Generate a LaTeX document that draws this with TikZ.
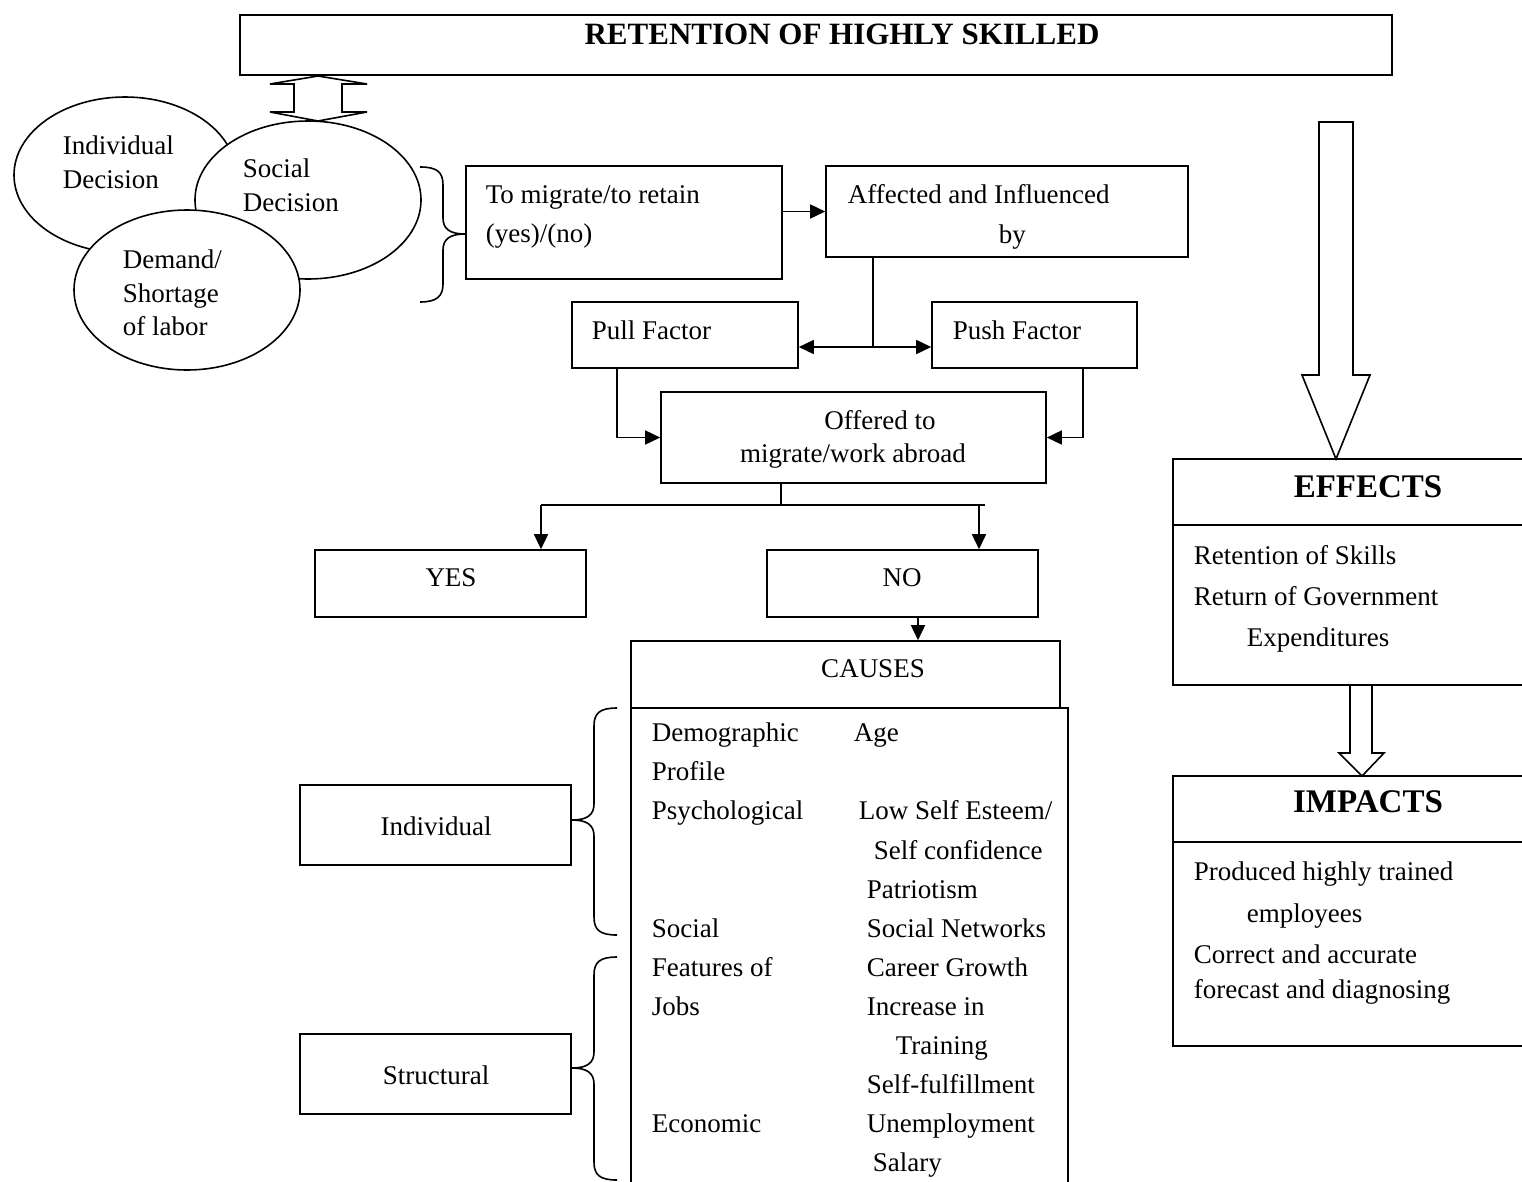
\documentclass[tikz,border=0pt]{standalone}
\usepackage{fontspec}
\setmainfont{Liberation Serif}
\usetikzlibrary{arrows.meta,shapes.geometric}
\begin{document}
\begin{tikzpicture}[x=1pt,y=-1pt,line width=1.6pt,
  box/.style={draw,rectangle,inner sep=0pt,line width=1.6pt},
  ell/.style={draw,ellipse,fill=white,inner sep=0pt,line width=1.6pt},
  txt/.style={inner sep=0pt,anchor=base west,font=\fontsize{27}{34}\selectfont},
  txtc/.style={inner sep=0pt,anchor=base,font=\fontsize{27}{34}\selectfont},
  ttl/.style={inner sep=0pt,anchor=base,font=\fontsize{31}{36}\selectfont\bfseries},
  ttlb/.style={inner sep=0pt,anchor=base,font=\fontsize{33}{36}\selectfont\bfseries},
  arr/.style={-{Triangle[length=15pt,width=14pt]}},
  blk/.style={draw,line width=1.6pt,line join=miter}]
\path[use as bounding box] (0,0) rectangle (1522,1181);
\begin{scope}
\clip (0,0) rectangle (1522,1181);

% ---------- top box ----------
\node[box,minimum width=1152pt,minimum height=60pt] (top) at (816,45) {};
\node[ttl] (ttop) at (842,44) {RETENTION OF HIGHLY SKILLED};

% double headed block arrow
\draw[blk] (318,76) -- (367,84) -- (342,84) -- (342,112) -- (367,112) -- (318,121)
  -- (270,112) -- (294,112) -- (294,84) -- (270,84) -- cycle;

% ---------- ellipses ----------
\node[ell,minimum width=222pt,minimum height=156pt] (eind) at (125,175) {};
\node[ell,minimum width=226pt,minimum height=158pt] (esoc) at (308,200) {};
\node[ell,minimum width=226pt,minimum height=160pt] (edem) at (187,290) {};
\node[txt] (ti1) at (62,154) {Individual};
\node[txt] (ti2) at (62,188) {Decision};
\node[txt] (ts1) at (242,177) {Social};
\node[txt] (ts2) at (242,211) {Decision};
\node[txt] (td1) at (122,268) {Demand/};
\node[txt] (td2) at (122,302) {Shortage};
\node[txt] (td3) at (122,335) {of labor};

% brace }
\draw (420,167) .. controls (437,167) and (443,172) .. (443,185) -- (443,218)
  .. controls (443,229) and (450,234) .. (465,234)
  .. controls (450,234) and (443,239) .. (443,250) -- (443,284)
  .. controls (443,296) and (437,302) .. (420,302);

% ---------- decision chain ----------
\node[box,minimum width=316pt,minimum height=113pt] (mig) at (624,222.5) {};
\node[txt] (tm1) at (485,203) {To migrate/to retain};
\node[txt] (tm2) at (485,242) {(yes)/(no)};

\node[box,minimum width=362pt,minimum height=91pt] (aff) at (1007,211.5) {};
\node[txt] (ta1) at (847,203) {Affected and Influenced};
\node[txt] (ta2) at (998,243) {by};

\draw[arr] (mig.east |- aff.west) -- (aff.west);

\node[box,minimum width=226pt,minimum height=66pt] (pull) at (685,335) {};
\node[txt] (tpl) at (591,339) {Pull Factor};
\node[box,minimum width=205pt,minimum height=66pt] (push) at (1034.5,335) {};
\node[txt] (tps) at (952,339) {Push Factor};

\coordinate (j1) at (873,347);
\draw (aff.south -| j1) -- (j1);
\draw[arr] (j1) -- (j1 -| pull.east);
\draw[arr] (j1) -- (j1 -| push.west);

\node[box,minimum width=385pt,minimum height=91pt] (off) at (853.5,437.5) {};
\node[txtc] (to1) at (880,429) {Offered to};
\node[txtc] (to2) at (853,462) {migrate/work abroad};

\coordinate (c1) at (617,436);
\coordinate (c2) at (1083,436);
\draw[arr] (pull.south -| c1) |- (off.west);
\draw[arr] (push.south -| c2) |- (off.east);

\node[box,minimum width=271pt,minimum height=67pt] (yes) at (450.5,583.5) {};
\node[txtc] (tyes) at (451,586) {YES};
\node[box,minimum width=271pt,minimum height=67pt] (no) at (902.5,583.5) {};
\node[txtc] (tno) at (902,586) {NO};

\coordinate (j2) at (781,505);
\coordinate (yl) at (541,505);
\coordinate (nl) at (979,505);
\coordinate (hr) at (985,505);
\draw (off.south -| j2) -- (j2);
\draw (yl) -- (hr);
\draw[arr] (yl) -- (yl |- yes.north);
\draw[arr] (nl) -- (nl |- no.north);

% ---------- causes ----------
\node[box,minimum width=429pt,minimum height=67pt] (causes) at (845.5,674.5) {};
\node[txtc] (tcs) at (873,677) {CAUSES};
\coordinate (c3) at (918,620);
\draw[arr] (no.south -| c3) -- (causes.north -| c3);

\node[box,minimum width=437pt,minimum height=492pt] (body) at (849.5,954) {};
\node[txt] (r0a) at (651,741.7) {Demographic};
\node[txt] (r0b) at (853,741.7) {Age};
\node[txt] (r1a) at (651,780.8) {Profile};
\node[txt] (r2a) at (651,819.9) {Psychological};
\node[txt] (r2b) at (858,819.9) {Low Self Esteem/};
\node[txt] (r3b) at (873,859.0) {Self confidence};
\node[txt] (r4b) at (866,898.1) {Patriotism};
\node[txt] (r5a) at (651,937.2) {Social};
\node[txt] (r5b) at (866,937.2) {Social Networks};
\node[txt] (r6a) at (651,976.3) {Features of};
\node[txt] (r6b) at (866,976.3) {Career Growth};
\node[txt] (r7a) at (651,1015.4) {Jobs};
\node[txt] (r7b) at (866,1015.4) {Increase in};
\node[txt] (r8b) at (895,1054.5) {Training};
\node[txt] (r9b) at (866,1093.6) {Self-fulfillment};
\node[txt] (r10a) at (651,1132.7) {Economic};
\node[txt] (r10b) at (866,1132.7) {Unemployment};
\node[txt] (r11b) at (872,1171.8) {Salary};

\node[box,minimum width=271pt,minimum height=80pt] (indiv) at (435.5,825) {};
\node[txtc] (tind) at (436,835) {Individual};
\node[box,minimum width=271pt,minimum height=80pt] (struct) at (435.5,1074) {};
\node[txtc] (tstr) at (436,1084) {Structural};

% braces {
\draw (617,708) .. controls (600,708) and (594,713) .. (594,726) -- (594,804)
  .. controls (594,815) and (587,820) .. (572,820)
  .. controls (587,820) and (594,825) .. (594,836) -- (594,917)
  .. controls (594,930) and (600,935) .. (617,935);
\draw (617,957) .. controls (600,957) and (594,962) .. (594,975) -- (594,1052)
  .. controls (594,1063) and (587,1068) .. (572,1068)
  .. controls (587,1068) and (594,1073) .. (594,1084) -- (594,1162)
  .. controls (594,1175) and (600,1180) .. (617,1180);

% ---------- right column ----------
\draw[blk] (1319,122) -- (1353,122) -- (1353,375) -- (1370,375) -- (1336,459)
  -- (1302,375) -- (1319,375) -- cycle;

\node[box,minimum width=367pt,minimum height=226pt] (eff) at (1356.5,572) {};
\draw (eff.west |- 0,525) -- (eff.east |- 0,525);
\node[ttlb] (teff) at (1368,497) {EFFECTS};
\node[txt] (te1) at (1193,564) {Retention of Skills};
\node[txt] (te2) at (1193,605) {Return of Government};
\node[txt] (te3) at (1246,646) {Expenditures};

\draw[blk] (1350,685) -- (1372,685) -- (1372,753) -- (1384,753) -- (1362,776)
  -- (1339,753) -- (1350,753) -- cycle;

\node[box,minimum width=367pt,minimum height=270pt] (imp) at (1356.5,911) {};
\draw (imp.west |- 0,842) -- (imp.east |- 0,842);
\node[ttlb] (timp) at (1368,812) {IMPACTS};
\node[txt] (tp1) at (1193,880) {Produced highly trained};
\node[txt] (tp2) at (1246,922) {employees};
\node[txt] (tp3) at (1193,963) {Correct and accurate};
\node[txt] (tp4) at (1193,998) {forecast and diagnosing};
\end{scope}
\end{tikzpicture}
\end{document}
